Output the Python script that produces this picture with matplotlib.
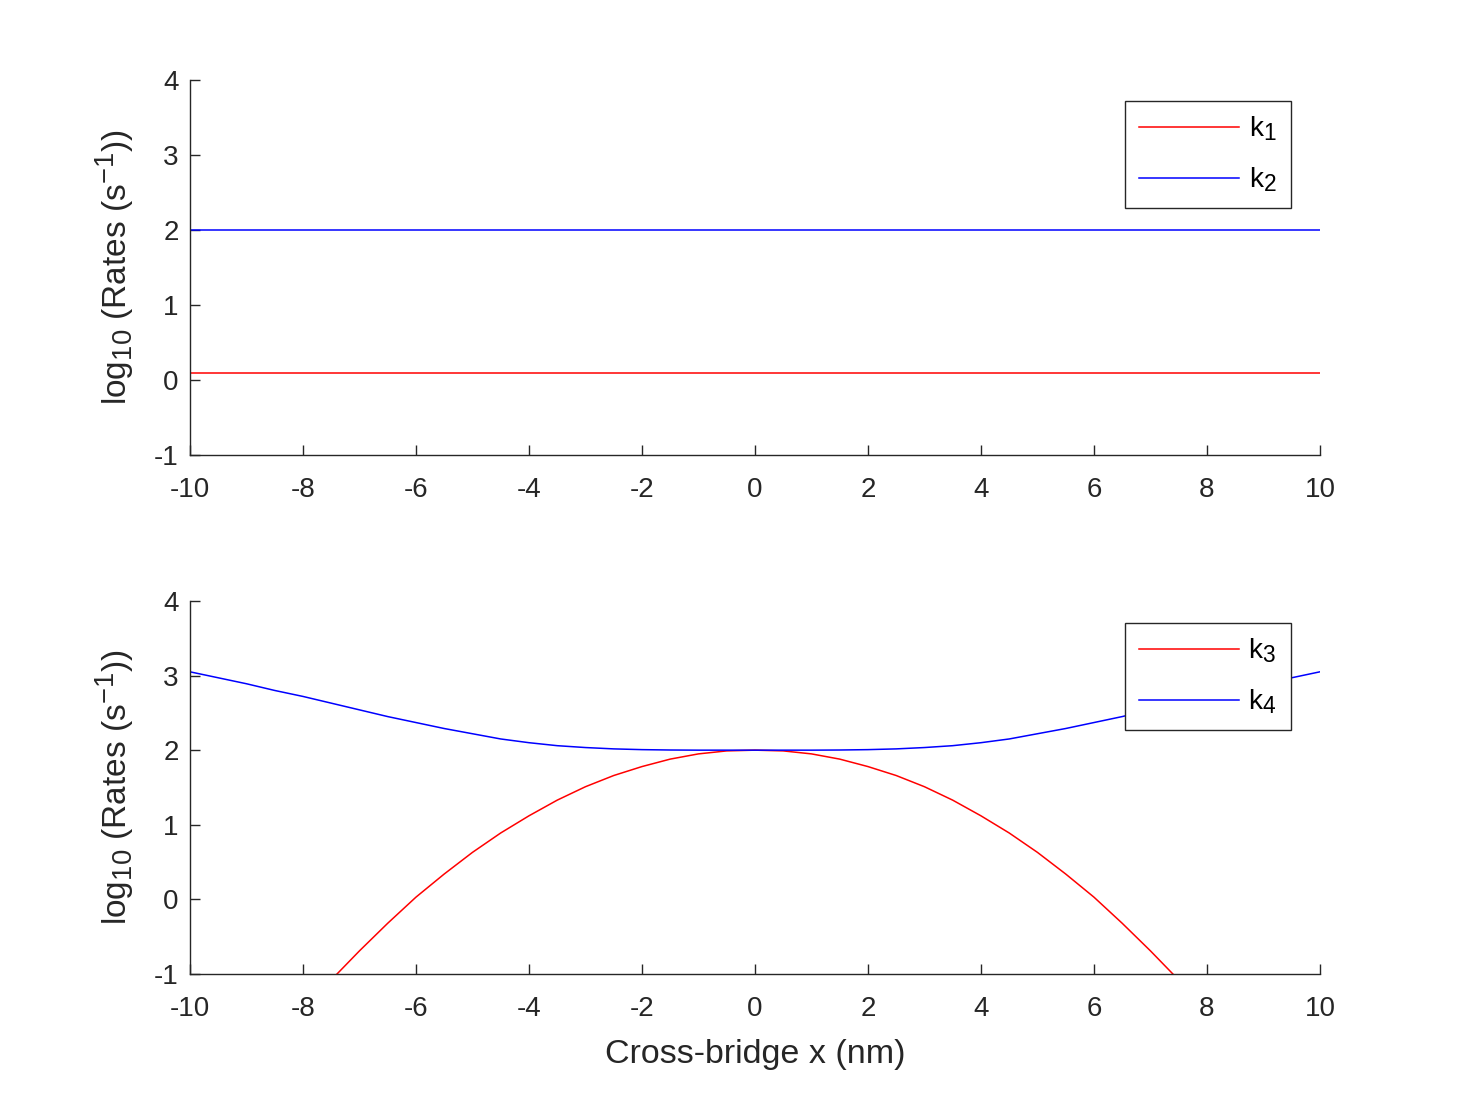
import numpy as np
import matplotlib
matplotlib.use("Agg")
import matplotlib.pyplot as plt
import matplotlib._mathtext as mathtext_mod

plt.rcParams['font.family'] = ['Liberation Sans', 'DejaVu Sans']
plt.rcParams['mathtext.fontset'] = 'custom'
plt.rcParams['mathtext.rm'] = 'Liberation Sans'
plt.rcParams['mathtext.it'] = 'Liberation Sans'
plt.rcParams['mathtext.default'] = 'rm'
plt.rcParams['axes.unicode_minus'] = False
# MATLAB-style sub/superscripts are bigger than matplotlib's default
mathtext_mod.SHRINK_FACTOR = 0.82

# Cross-bridge position (nm)
x = [-10, -9.5, -9, -8.5, -8, -7.5, -7, -6.5, -6, -5.5, -5, -4.5, -4, -3.5, -3, -2.5, -2, -1.5, -1, -0.5,
     0, 0.5, 1, 1.5, 2, 2.5, 3, 3.5, 4, 4.5, 5, 5.5, 6, 6.5, 7, 7.5, 8, 8.5, 9, 9.5, 10]

# log10 rates
k1 = [0.1] * len(x)
k2 = [2.0] * len(x)
k3 = [-3.48, -2.95, -2.44, -1.96, -1.51, -1.08, -0.69, -0.32, 0.03, 0.34, 0.63, 0.89, 1.12, 1.33, 1.51,
      1.66, 1.78, 1.88, 1.95, 1.99, 2.00, 1.99, 1.95, 1.88, 1.78, 1.66, 1.51, 1.33, 1.12, 0.89, 0.63,
      0.34, 0.03, -0.32, -0.69, -1.08, -1.51, -1.96, -2.44, -2.95, -3.48]
k4 = [3.05, 2.97, 2.89, 2.80, 2.72, 2.63, 2.54, 2.45, 2.37, 2.29, 2.22, 2.15, 2.10, 2.06, 2.035,
      2.017, 2.007, 2.002, 2.0, 2.0, 2.0, 2.0, 2.0, 2.002, 2.007, 2.017, 2.035, 2.06, 2.10, 2.15,
      2.22, 2.29, 2.37, 2.45, 2.54, 2.63, 2.72, 2.80, 2.89, 2.97, 3.05]

xticks = list(range(-10, 11, 2))
yticks = [-1, 0, 1, 2, 3, 4]
axcol = '#262626'

fig = plt.figure(figsize=(14.58, 10.94), dpi=100)
ax1 = fig.add_axes([0.1303, 0.584, 0.775, 0.3428])
ax2 = fig.add_axes([0.1303, 0.1097, 0.775, 0.341])

panels = [(ax1, k1, k2, 'k$_1$', 'k$_2$', 0.944), (ax2, k3, k4, 'k$_3$', 'k$_4$', 0.941)]
for ax, ra, rb, la, lb, ltop in panels:
    ax.plot(x, ra, color='red', lw=1.1, label=la)
    ax.plot(x, rb, color='blue', lw=1.1, label=lb)
    ax.set_xlim(-10, 10)
    ax.set_ylim(-1, 4)
    ax.set_xticks(xticks)
    ax.set_yticks(yticks)
    ax.spines['top'].set_visible(False)
    ax.spines['right'].set_visible(False)
    for s in ['left', 'bottom']:
        ax.spines[s].set_color(axcol)
        ax.spines[s].set_linewidth(1.0)
    ax.tick_params(direction='in', length=7, width=1.0, colors=axcol, labelsize=20,
                   labelcolor=axcol)
    ax.tick_params(axis='x', pad=16)
    ax.tick_params(axis='y', pad=8)
    ax.set_ylabel('log$_{10}$ (Rates (s$^{-1}$))', fontsize=24, color=axcol, labelpad=13)
    leg = ax.legend(loc='upper right', bbox_to_anchor=(0.974, ltop), fontsize=20,
                    handlelength=3.6, labelspacing=0.8, borderpad=0.5, handletextpad=0.35,
                    fancybox=False, framealpha=1, borderaxespad=0)
    leg.get_frame().set_edgecolor(axcol)
    leg.get_frame().set_linewidth(1.0)

ax2.set_xlabel('Cross-bridge x (nm)', fontsize=24.5, color=axcol, labelpad=12)

plt.savefig('out.png', dpi=100)
